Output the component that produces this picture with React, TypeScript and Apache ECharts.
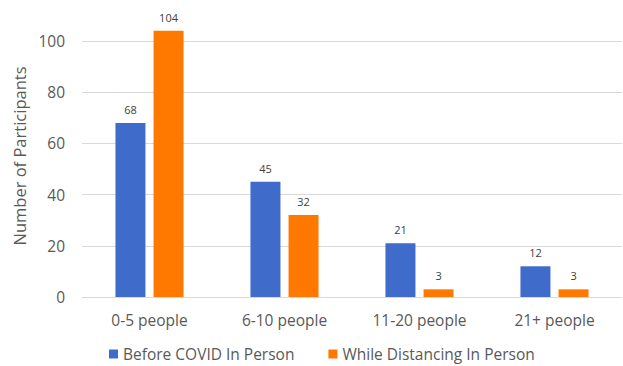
import React, { useEffect, useRef } from "react";
import * as echarts from "echarts";

const categories = ["0-5 people", "6-10 people", "11-20 people", "21+ people"];
const beforeCovid = [68, 45, 21, 12];
const whileDistancing = [104, 32, 3, 3];
const seriesNames = ["Before COVID In Person", "While Distancing In Person"];

const FONT = "Open Sans";

export default function App() {
  const ref = useRef<HTMLDivElement>(null);
  useEffect(() => {
    if (!ref.current) return;
    const chart = echarts.init(ref.current, null, { renderer: "svg" });
    const labelStyle = {
      show: true,
      position: "top" as const,
      distance: 8,
      fontSize: 11,
      color: "#404040",
      fontFamily: FONT,
    };
    chart.setOption({
      animation: false,
      textStyle: { fontFamily: FONT },
      grid: { left: 82, right: 1, top: 41, height: 256 },
      legend: {
        data: seriesNames,
        bottom: -1,
        left: 104,
        itemWidth: 9,
        itemHeight: 9,
        itemGap: 34,
        icon: "rect",
        textStyle: { fontSize: 15.5, color: "#595959", fontFamily: FONT },
      },
      xAxis: {
        type: "category",
        data: categories,
        axisTick: { show: false },
        axisLine: { lineStyle: { color: "#d9d9d9" } },
        axisLabel: { fontSize: 15.5, color: "#595959", margin: 15, fontFamily: FONT },
      },
      yAxis: {
        type: "value",
        min: 0,
        max: 100,
        interval: 20,
        name: "Number of Participants",
        nameLocation: "middle",
        nameGap: 49,
        nameTextStyle: { fontSize: 16.5, color: "#595959", fontFamily: FONT, padding: [0, 0, 0, 26] },
        axisLabel: { fontSize: 15.5, color: "#595959", margin: 17, fontFamily: FONT },
        splitLine: { lineStyle: { color: "#d9d9d9" } },
        axisLine: { show: false },
      },
      series: [
        {
          name: seriesNames[0],
          type: "bar",
          data: beforeCovid,
          barWidth: 30,
          barGap: "27%",
          clip: false,
          itemStyle: { color: "#3F6BCB" },
          label: labelStyle,
        },
        {
          name: seriesNames[1],
          type: "bar",
          data: whileDistancing,
          barWidth: 30,
          clip: false,
          itemStyle: { color: "#FF7900" },
          label: labelStyle,
        },
      ],
    });
    return () => chart.dispose();
  }, []);
  return <div ref={ref} style={{ width: 623, height: 366, position: "absolute", left: 0, top: 0 }} />;
}
